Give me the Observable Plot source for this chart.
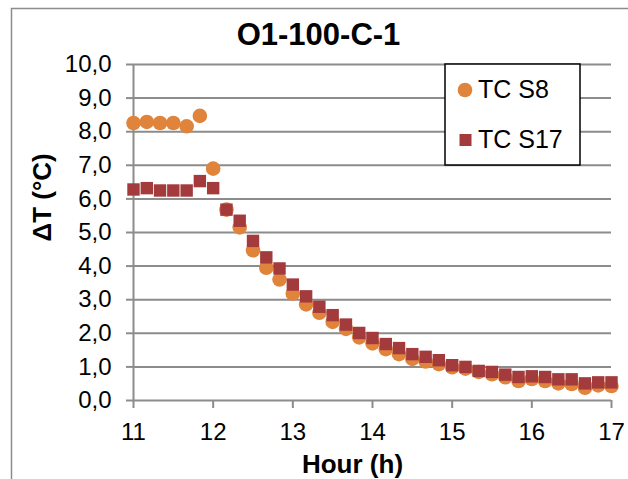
<!DOCTYPE html>
<html>
<head>
<meta charset="utf-8">
<script src="https://cdn.jsdelivr.net/npm/d3@7"></script>
<script src="https://cdn.jsdelivr.net/npm/@observablehq/plot@0.6"></script>
<style>
  html, body { margin: 0; padding: 0; background: #fff; }
  #chart svg { display: block; }
</style>
</head>
<body>
<div id="chart"></div>
<script>
const title = "O1-100-C-1";
const xLabel = "Hour (h)";
const yLabel = "ΔT (°C)";
const seriesNames = ["TC S8", "TC S17"];
const seriesColors = ["#E0843C", "#A33B3D"];

const hours = [11.000, 11.167, 11.333, 11.500, 11.667, 11.833, 12.000, 12.167, 12.333, 12.500,
               12.667, 12.833, 13.000, 13.167, 13.333, 13.500, 13.667, 13.833, 14.000, 14.167,
               14.333, 14.500, 14.667, 14.833, 15.000, 15.167, 15.333, 15.500, 15.667, 15.833,
               16.000, 16.167, 16.333, 16.500, 16.667, 16.833, 17.000];
const s8  = [8.26, 8.29, 8.26, 8.26, 8.16, 8.47, 6.90, 5.68, 5.15, 4.47,
             3.95, 3.60, 3.18, 2.86, 2.61, 2.34, 2.13, 1.88, 1.70, 1.53,
             1.38, 1.24, 1.16, 1.08, 0.99, 0.95, 0.85, 0.78, 0.69, 0.58,
             0.64, 0.58, 0.51, 0.49, 0.38, 0.45, 0.43];
const s17 = [6.28, 6.32, 6.25, 6.25, 6.25, 6.53, 6.32, 5.68, 5.35, 4.75,
             4.26, 3.93, 3.45, 3.10, 2.79, 2.54, 2.26, 2.01, 1.86, 1.68,
             1.56, 1.38, 1.30, 1.20, 1.05, 1.00, 0.88, 0.85, 0.77, 0.70,
             0.72, 0.70, 0.63, 0.63, 0.51, 0.54, 0.54];
const xTicks = [11, 12, 13, 14, 15, 16, 17];
const yTicks = [0, 1, 2, 3, 4, 5, 6, 7, 8, 9, 10];

const GRID = "#8c8c8c";
const FONT = "'Liberation Sans', Arial, Helvetica, sans-serif";

const d8 = hours.map((h, i) => ({h, v: s8[i]}));
const d17 = hours.map((h, i) => ({h, v: s17[i]}));

const chart = Plot.plot({
  width: 628,
  height: 479,
  marginLeft: 133,
  marginRight: 17,
  marginTop: 64,
  marginBottom: 79,
  style: {fontFamily: FONT, fontSize: "24px", color: "#000", background: "#fff", overflow: "visible"},
  x: {domain: [11, 17]},
  y: {domain: [0, 10]},
  marks: [
    Plot.ruleY(yTicks, {stroke: GRID, strokeWidth: 2}),
    Plot.ruleX([11], {stroke: GRID, strokeWidth: 2}),
    Plot.axisY({ticks: yTicks, tickSize: 7, tickPadding: 15, stroke: GRID, strokeWidth: 2,
                tickFormat: d => d.toFixed(1).replace(".", ","), label: null, fontSize: 24}),
    Plot.axisX({ticks: xTicks, tickSize: 8, tickPadding: 14, stroke: GRID, strokeWidth: 2,
                tickFormat: d => String(d), label: null, fontSize: 24}),
    Plot.dot(d8, {x: "h", y: "v", r: 7.3, fill: seriesColors[0], stroke: "none", symbol: "circle"}),
    Plot.dot(d17, {x: "h", y: "v", r: 7, fill: seriesColors[1], stroke: "none", symbol: "square"}),
    Plot.text([title], {frameAnchor: "top", lineAnchor: "middle", dx: -54, dy: -29, fontSize: 31, fontWeight: "bold", fill: "#000"}),
    Plot.text([xLabel], {frameAnchor: "bottom", lineAnchor: "middle", dx: -20, dy: 64, fontSize: 26, fontWeight: "bold", fill: "#000"}),
    Plot.text([yLabel], {frameAnchor: "left", lineAnchor: "middle", dx: -91, dy: 9, rotate: -90, fontSize: 26, fontWeight: "bold", fill: "#000"})
  ]
});

// chart-area border
const svg = d3.select(chart);
svg.insert("rect", ":first-child")
  .attr("x", 11.5).attr("y", 8.5).attr("width", 700).attr("height", 600)
  .attr("fill", "none").attr("stroke", GRID).attr("stroke-width", 1.5);

// legend
const lg = svg.append("g").attr("font-family", FONT).attr("font-size", 25).attr("text-anchor", "start");
lg.append("rect").attr("x", 445).attr("y", 64).attr("width", 135).attr("height", 101)
  .attr("fill", "#fff").attr("stroke", "#000").attr("stroke-width", 1.5);
lg.append("circle").attr("cx", 465).attr("cy", 90).attr("r", 7.3).attr("fill", seriesColors[0]);
lg.append("text").attr("x", 478).attr("y", 98).attr("text-anchor", "start").attr("fill", "#000").text(seriesNames[0]);
lg.append("rect").attr("x", 459.5).attr("y", 134).attr("width", 12).attr("height", 12).attr("fill", seriesColors[1]);
lg.append("text").attr("x", 478).attr("y", 148).attr("text-anchor", "start").attr("fill", "#000").text(seriesNames[1]);

document.getElementById("chart").appendChild(chart);
</script>
</body>
</html>
